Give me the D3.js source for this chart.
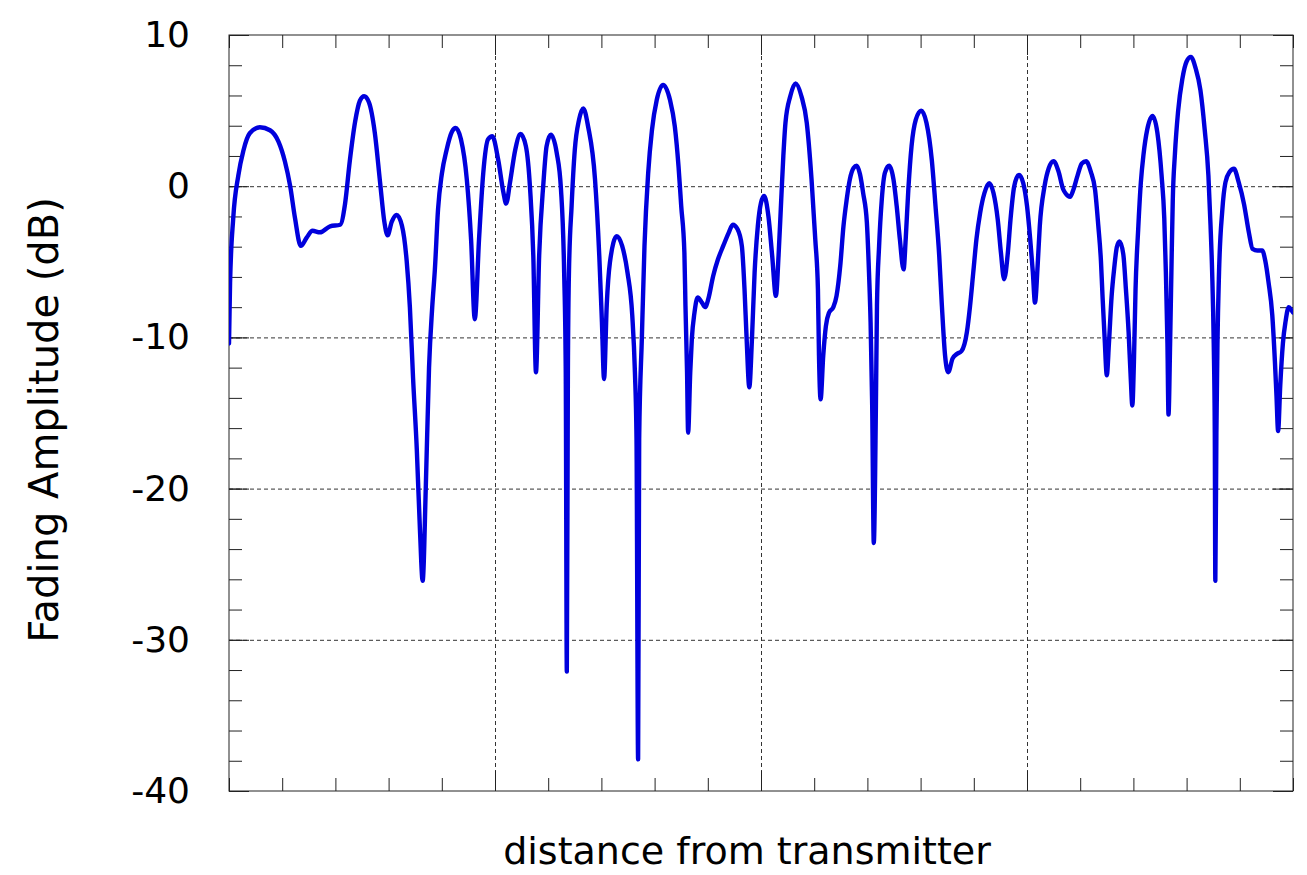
<!DOCTYPE html>
<html>
<head>
<meta charset="utf-8">
<script src="https://cdn.jsdelivr.net/npm/d3@7"></script>
<style>
  html, body { margin: 0; padding: 0; background: #fff; }
  svg text { font-family: "DejaVu Sans", Verdana, sans-serif; fill: #000; }
</style>
</head>
<body>
<svg id="chart" width="1307" height="875"></svg>
<script>
// distance along the path (arbitrary units, axis is unlabelled)
const distance = [
  0, 0.02, 0.08, 0.175, 0.27, 0.39, 0.58, 0.77, 0.93, 1.05, 1.15, 1.24, 1.35, 1.46, 1.57, 1.71, 1.9, 2.09,
  2.18, 2.27, 2.37, 2.46, 2.54, 2.63, 2.74, 2.84, 2.92, 2.98, 3.06, 3.15, 3.25, 3.34, 3.4, 3.46, 3.53, 3.59,
  3.64, 3.7, 3.76, 3.82, 3.87, 3.93, 4.0, 4.09, 4.19, 4.26, 4.36, 4.47, 4.55, 4.62, 4.7, 4.78, 4.87, 4.95,
  5.06, 5.16, 5.21, 5.28, 5.38, 5.48, 5.58, 5.66, 5.72, 5.77, 5.83, 5.91, 5.97, 6.05, 6.16, 6.24, 6.3, 6.33,
  6.35, 6.37, 6.39, 6.44, 6.5, 6.58, 6.66, 6.75, 6.88, 6.96, 7.01, 7.05, 7.1, 7.16, 7.29, 7.39, 7.49, 7.58,
  7.63, 7.66, 7.69, 7.71, 7.76, 7.81, 7.88, 7.95, 8.04, 8.16, 8.29, 8.38, 8.45, 8.5, 8.56, 8.58, 8.61, 8.63,
  8.67, 8.7, 8.75, 8.81, 8.89, 8.95, 9.01, 9.1, 9.19, 9.29, 9.39, 9.47, 9.56, 9.64, 9.69, 9.73, 9.78, 9.83,
  9.88, 9.94, 10.0, 10.06, 10.14, 10.21, 10.28, 10.33, 10.38, 10.42, 10.46, 10.55, 10.65, 10.76, 10.86, 10.95,
  11.02, 11.07, 11.09, 11.12, 11.17, 11.22, 11.28, 11.36, 11.42, 11.49, 11.55, 11.61, 11.67, 11.74, 11.8, 11.86,
  11.92, 11.99, 12.03, 12.06, 12.09, 12.12, 12.16, 12.18, 12.22, 12.27, 12.33, 12.41, 12.49, 12.55, 12.61, 12.68,
  12.72, 12.77, 12.83, 12.91, 13.01, 13.11, 13.21, 13.28, 13.35, 13.4, 13.46, 13.52, 13.6, 13.68, 13.77, 13.87,
  13.93, 13.99, 14.05, 14.12, 14.2, 14.29, 14.37, 14.45, 14.51, 14.57, 14.64, 14.69, 14.76, 14.85, 14.93, 15.0,
  15.06, 15.11, 15.15, 15.2, 15.24, 15.33, 15.41, 15.5, 15.59, 15.68, 15.73, 15.81, 15.87, 15.95, 16.03, 16.11,
  16.2, 16.28, 16.34, 16.39, 16.42, 16.46, 16.5, 16.54, 16.59, 16.64, 16.69, 16.74, 16.81, 16.86, 16.91, 16.95,
  16.98, 17.01, 17.04, 17.09, 17.14, 17.19, 17.26, 17.36, 17.45, 17.53, 17.58, 17.61, 17.64, 17.66, 17.69, 17.72,
  17.74, 17.78, 17.84, 17.92, 18.0, 18.08, 18.17, 18.26, 18.34, 18.41, 18.45, 18.48, 18.51, 18.53, 18.54, 18.56,
  18.58, 18.61, 18.67, 18.73, 18.81, 18.89, 18.98, 19.08, 19.17, 19.24, 19.33, 19.42, 19.48, 19.54, 19.61, 19.66,
  19.69, 19.72, 19.76, 19.81, 19.86, 19.92, 19.98, 20.0
];

// fading amplitude in dB
const fadingDb = [
  -10.4, -6.4, -2.1, 0.7, 2.35, 3.5, 3.9, 3.7, 2.95, 1.65, 0, -2.1, -3.95, -3.4, -2.95, -3.05, -2.65, -2.55,
  -1.2, 1.65, 4.25, 5.65, 5.95, 5.55, 3.55, 0.25, -2.35, -3.25, -2.35, -1.9, -2.6, -4.95, -8.0, -12.7, -17.4, -22.8,
  -26.1, -19.8, -12.0, -8.0, -5.5, -1.5, 0.8, 2.4, 3.6, 3.85, 3.1, 0.45, -3.5, -8.8, -3.5, 0.9, 3.1, 3.3,
  1.75, -0.45, -1.15, 0.2, 2.4, 3.45, 2.65, -0.2, -4.6, -12.3, -4.6, 0.2, 2.65, 3.4, 2.2, -0.2, -5.7, -12.3,
  -32.1, -12.3, -5.7, -1.3, 2.4, 4.4, 5.15, 3.95, 0.45, -4.6, -9.0, -12.75, -7.9, -5.05, -3.3, -3.95, -5.7, -8.55,
  -12.3, -16.7, -37.9, -16.7, -10.1, -3.95, 0.9, 3.7, 5.7, 6.7, 5.7, 3.95, 1.3, -1.3, -4.4, -7.9, -12.3, -16.3,
  -12.3, -10.1, -8.35, -7.35, -7.7, -8.0, -7.45, -5.95, -4.85, -3.95, -3.1, -2.55, -2.85, -3.95, -6.8, -10.1, -13.3, -10.1,
  -5.7, -2.65, -1.1, -0.65, -2.0, -4.6, -7.25, -4.6, -0.9, 2.0, 4.2, 5.95, 6.8, 5.95, 4.2, 0.45,
  -3.5, -6.8, -11.2, -14.1, -11.2, -9.25, -8.35, -8.0, -7.25, -5.25, -2.65, -0.9, 0.45, 1.2, 1.35, 0.8,
  -0.45, -2.4, -5.7, -9.0, -14.5, -23.6, -14.5, -7.9, -3.95, -0.9, 0.9, 1.35, 0.45, -1.3, -3.5, -5.5,
  -3.5, -0.2, 2.65, 4.4, 5.0, 4.2, 1.75, -1.3, -4.6, -7.9, -11.2, -12.3, -11.4, -11.1, -10.9, -9.65,
  -7.9, -5.7, -3.5, -1.75, -0.45, 0.2, -0.45, -2.2, -4.4, -6.15, -4.4, -2.2, 0, 0.75, 0.2, -1.3,
  -3.5, -5.7, -7.7, -5.25, -2.65, 0, 1.2, 1.65, 1.0, -0.2, -0.5, -0.7, -0.25, 0.7, 1.5, 1.65,
  0.95, -0.25, -2.6, -4.95, -7.3, -10.1, -12.5, -10.4, -7.3, -5.4, -4.0, -3.65, -4.5, -6.85, -9.65, -12.7,
  -14.5, -11.6, -6.85, -2.85, 0.25, 2.1, 3.75, 4.65, 3.55, 0.7, -2.1, -5.65, -10.4, -15.1, -10.4, -4.5,
  -0.95, 2.1, 4.95, 7.1, 8.25, 8.55, 7.8, 6.35, 3.75, 0.7, -2.6, -5.65, -10.4, -16.3, -26.1, -16.3,
  -10.4, -5.65, -1.65, 0.25, 0.95, 1.15, 0.25, -1.2, -3.05, -4.15, -4.25, -4.25, -4.95, -6.35, -8.5, -11.6,
  -13.9, -16.2, -13.2, -10.4, -8.95, -8.0, -8.25, -8.35
];

const yMajorTicks = [10, 0, -10, -20, -30, -40];
const yMinorTicks = d3.range(-40, 10.01, 2);
const xMajorTicks = [5, 10, 15];
const xMinorTicks = d3.range(0, 20.01, 1);
const yGridLines = [0, -10, -20, -30];
const xLabel = "distance from transmitter";
const yLabel = "Fading Amplitude (dB)";

const margin = { top: 35, right: 14, bottom: 84, left: 229 };
const W = 1307, H = 875;
const width = W - margin.left - margin.right;
const height = H - margin.top - margin.bottom;

const x = d3.scaleLinear().domain([0, 20]).range([0, width]);
const y = d3.scaleLinear().domain([-40, 10]).range([height, 0]);

const svg = d3.select("#chart");
const g = svg.append("g").attr("transform", `translate(${margin.left},${margin.top})`);

// dashed grid
const grid = g.append("g").attr("class", "grid");
grid.append("g")
  .call(d3.axisLeft(y).tickValues(yGridLines).tickSize(-width).tickFormat(""))
  .call(s => s.select(".domain").remove());
grid.append("g")
  .call(d3.axisTop(x).tickValues(xMajorTicks).tickSize(-height).tickFormat(""))
  .call(s => s.select(".domain").remove());
grid.selectAll("line")
  .attr("stroke", "#333")
  .attr("stroke-width", 1)
  .attr("stroke-dasharray", "4,3");

// ticks on all four sides, pointing inward
function ticks(axisFn, vals, size, transform) {
  const a = g.append("g")
    .attr("transform", transform)
    .call(axisFn.tickValues(vals).tickSize(size).tickFormat(""));
  a.select(".domain").remove();
  a.selectAll("line").attr("stroke", "#222").attr("stroke-width", 1);
  return a;
}
ticks(d3.axisLeft(y), yMinorTicks, -13, "translate(0,0)");
ticks(d3.axisRight(y), yMinorTicks, -13, `translate(${width},0)`);
ticks(d3.axisLeft(y), yMajorTicks, -20, "translate(0,0)");
ticks(d3.axisRight(y), yMajorTicks, -20, `translate(${width},0)`);
ticks(d3.axisBottom(x), xMinorTicks, -13, `translate(0,${height})`);
ticks(d3.axisTop(x), xMinorTicks, -13, "translate(0,0)");
ticks(d3.axisBottom(x), xMajorTicks, -20, `translate(0,${height})`);
ticks(d3.axisTop(x), xMajorTicks, -20, "translate(0,0)");

// y tick labels (plain hyphen for negatives, as in the original)
const yAxis = g.append("g")
  .call(d3.axisLeft(y).tickValues(yMajorTicks).tickSize(0).tickPadding(39).tickFormat(d => String(d)));
yAxis.select(".domain").remove();
yAxis.selectAll("text")
  .style("font-size", "36px")
  .style("font-family", "'DejaVu Sans', Verdana, sans-serif")
  .attr("fill", "#000");

// frame
g.append("rect")
  .attr("width", width)
  .attr("height", height)
  .attr("fill", "none")
  .attr("stroke", "#222")
  .attr("stroke-width", 1);

// the fading curve
g.append("clipPath").attr("id", "plotclip")
  .append("rect").attr("width", width).attr("height", height);

const line = d3.line()
  .x(i => x(distance[i]))
  .y(i => y(fadingDb[i]))
  .curve(d3.curveMonotoneX);

g.append("path")
  .datum(d3.range(distance.length))
  .attr("clip-path", "url(#plotclip)")
  .attr("fill", "none")
  .attr("stroke", "#0000dc")
  .attr("stroke-width", 4.4)
  .attr("stroke-linejoin", "round")
  .attr("stroke-linecap", "round")
  .attr("d", line);

// axis titles
svg.append("text")
  .attr("x", 747)
  .attr("y", 864)
  .attr("text-anchor", "middle")
  .style("font-size", "38px")
  .text(xLabel);

svg.append("text")
  .attr("transform", "translate(58,420) rotate(-90)")
  .attr("text-anchor", "middle")
  .style("font-size", "40px")
  .text(yLabel);
</script>
</body>
</html>
